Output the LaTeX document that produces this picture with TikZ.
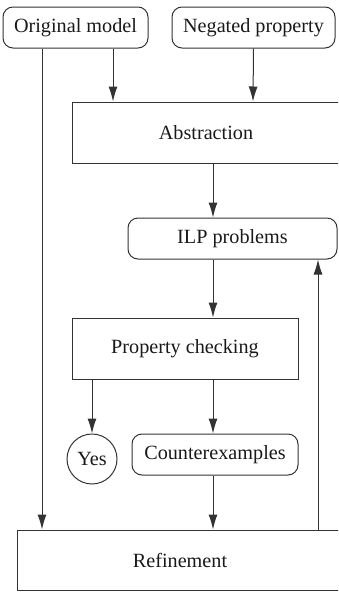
\documentclass[tikz,border=0pt]{standalone}
\usepackage{fontspec}
\setmainfont{Liberation Serif}
\usetikzlibrary{arrows.meta}
\begin{document}
\begin{tikzpicture}[x=1pt,y=-1pt,
  every node/.style={font=\fontsize{20.2}{24}\selectfont, inner sep=0pt, text=black!90},
  rbox/.style={draw=black!80, line width=1pt, rounded corners=10pt},
  sbox/.style={draw=black!80, line width=1pt},
  arr/.style={draw=black!80, line width=1pt, -{Latex[length=15pt,width=9pt]}},
  ln/.style={draw=black!80, line width=1pt}]
\useasboundingbox (0,0) rectangle (338,592);
\begin{scope}
\clip (0,0) rectangle (338,592);
\node[rbox, minimum width=145pt, minimum height=41pt] (orig) at (75.5,27.5) {Original model};
\node[rbox, minimum width=163pt, minimum height=41pt] (neg) at (253.5,27.5) {Negated property};
\node[sbox, minimum width=268pt, minimum height=61pt] (abs) at (206,132.5) {Abstraction};
\node[rbox, minimum width=209pt, minimum height=41pt] (ilp) at (232.5,238.5) {ILP problems};
\node[sbox, minimum width=226pt, minimum height=61pt] (prop) at (185,348.5) {Property checking};
\node[sbox, circle, minimum size=50pt] (yes) at (92,459) {Yes};
\node[rbox, minimum width=166pt, minimum height=41pt] (cex) at (215,454.5) {Counterexamples};
\node[sbox, minimum width=326pt, minimum height=60pt] (ref) at (180,560) {Refinement};

\draw[arr] (113,0 |- orig.south) -- (113,0 |- abs.north);
\draw[arr] (neg.south) -- (253,0 |- abs.north);
\draw[arr] (213,0 |- abs.south) -- (213,0 |- ilp.north);
\draw[arr] (213,0 |- ilp.south) -- (213,0 |- prop.north);
\draw[arr] (92,0 |- prop.south) -- (yes.north);
\draw[arr] (213,0 |- prop.south) -- (213,0 |- cex.north);
\draw[arr] (213,0 |- cex.south) -- (213,0 |- ref.north);
\draw[arr] (42,0 |- orig.south) -- (42,0 |- ref.north);
\draw[arr] (318,0 |- ref.north) -- (318,0 |- ilp.south);
\end{scope}
\end{tikzpicture}
\end{document}
